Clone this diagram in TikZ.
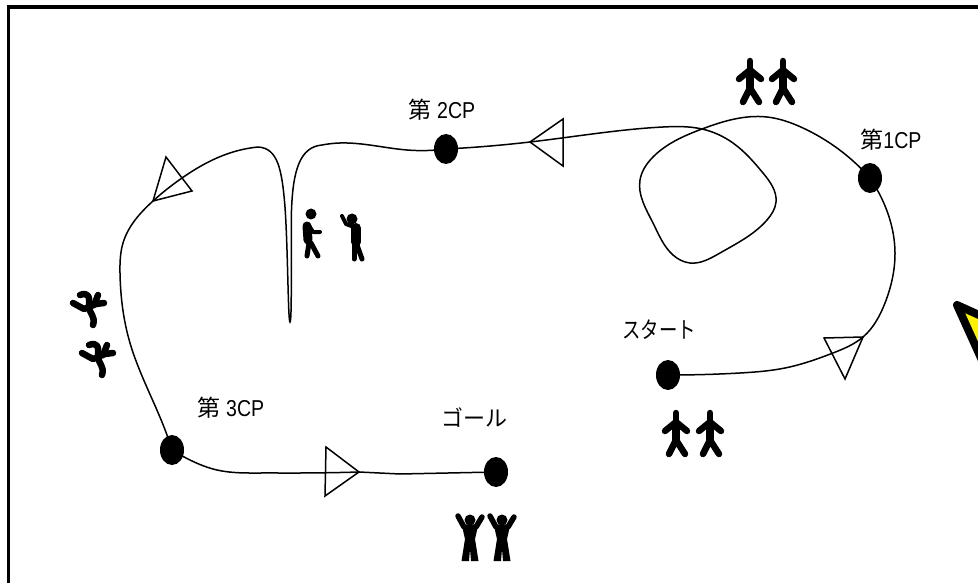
\documentclass[tikz,border=0pt]{standalone}
\usepackage{fontspec}
\setmainfont{Liberation Sans}
\newfontfamily\cjk{Noto Sans CJK JP}
\newfontfamily\cjknarrow[FakeStretch=0.8]{Noto Sans CJK JP}
\newfontfamily\latinnarrow[FakeStretch=0.85]{Liberation Sans}
\usetikzlibrary{positioning, shapes.geometric, hobby}

\begin{document}
\begin{tikzpicture}[
        x=1pt, y=-1pt,
        every node/.style={inner sep=0pt},
        checkpoint/.style={ellipse, fill=black, minimum width=24pt, minimum height=30pt},
        label/.style={font=\fontsize{23}{25}\selectfont, anchor=center},
        course/.style={draw=black, line width=1.5pt},
        flag/.style={draw=black, line width=1.5pt, line join=miter},
        limb/.style={draw=black, line width=6.5pt, line cap=round, line join=round},
        walker/.pic={
            \draw[limb] (0,3) -- (0,14);
            \draw[limb, line width=8pt] (0,14) -- (0,32);
            \draw[limb] (-11,21) -- (0,12) -- (11,21);
            \draw[limb] (-7,44) -- (0,30) -- (9,44);
        },
        cheerer/.pic={
            \fill (0,7) circle[radius=5.5pt];
            \draw[limb, line width=5.5pt] (-12,3) -- (-6,14) -- (6,14) -- (12,4);
            \fill (-8,13) -- (8,13) -- (5,26) -- (8.5,48) -- (1,48) -- (0,36) -- (-1,48) -- (-8.5,48) -- (-5,26) -- cycle;
        },
        runner/.pic={
            \draw[limb, line width=6.5pt] (-15,-7) -- (-4,-1) -- (8,-6) -- (16,-7);
            \draw[limb, line width=6.5pt] (-8,-15) .. controls (0,-18) and (2,-14) .. (1,-4) .. controls (1,4) and (8,6) .. (5,15);
            \draw[limb, line width=6.5pt] (10,-15) -- (7,-7);
        }
    ]
    \useasboundingbox (0,0) rectangle (978,583);

    % Rahmen
    \draw[line width=3.5pt] (8.5,583) -- (8.5,7) -- (978,7);

    % Warnzeichen rechts
    \draw[line width=8pt, line join=round, fill=yellow] (1100,370) -- (957,305) -- (1000,400) -- cycle;

    % Kontrollpunkte
    \node[checkpoint] (start) at (668,375) {};
    \node[checkpoint] (cp1) at (870,178) {};
    \node[checkpoint] (cp2) at (446,149) {};
    \node[checkpoint] (cp3) at (172,450) {};
    \node[checkpoint] (goal) at (496,472) {};

    % Texte
    \node[label] (startlabel) at (659,330) {\cjknarrow スタート};
    \node[label] (cp1label) at (891,140) {\cjk 第\latinnarrow 1CP};
    \node[label] (cp2label) at (442,110) {\cjk 第\latinnarrow\ 2CP};
    \node[label] (cp3label) at (231,408) {\cjk 第\latinnarrow\ 3CP};
    \node[label, font=\fontsize{22}{24}\selectfont] (goallabel) at (474,418) {\cjk ゴール};

    % Strecke
    \draw[course] (start.center) to[curve through={(740,373) (785,368) (833,353) (863,337) (885,303) (895,253) (880,195)}] (cp1.center);
    \draw[course] (cp1.center) to[curve through={(803,128) (767,117) (702,129) (653,157) (640,180) (653,223) (673,255) (690,263) (720,253) (767,220) (776,202) (763,173) (733,143) (702,129) (663,127) (600,133) (530,142)}] (cp2.center);
    \draw[course] (cp2.center) to[curve through={(407,150) (340,143)}] (322,145);
    \draw[course] (322,145) .. controls (300,147) and (293,170) .. (291.5,210) .. controls (291,260) and (292,322) .. (290,322) .. controls (288,322) and (288,250) .. (285,207) .. controls (282,170) and (278,148) .. (258,147);
    \draw[course] (258,147) to[curve through={(233,152) (182,178) (153,201) (123,243) (120,273) (130,343) (167,435)}] (cp3.center);
    \draw[course] (cp3.center) to[curve through={(190,460) (217,470) (260,473) (300,473)}] (359,472);
    \draw[course] (359,472) -- (400,474) -- (goal);

    % Richtungspfeile
    \draw[flag] (824,338) -- (863,337) -- (845,379) -- cycle;
    \draw[flag] (530,142) -- (563,119) -- (563,166) -- cycle;
    \draw[flag] (153,201) -- (166,157) -- (192,191) -- cycle;
    \draw[flag] (359,472) -- (326,447) -- (325,496) -- cycle;

    % Figuren
    \pic at (750,58) {walker};
    \pic at (783,58) {walker};
    \pic at (676,410) {walker};
    \pic at (710,410) {walker};
    \pic at (470,513) {cheerer};
    \pic at (502,513) {cheerer};
    \pic at (88,310) {runner};
    \pic at (97,360) {runner};

    % Figuren am zweiten Kontrollpunkt
    \fill (311,214) circle[radius=5.5pt];
    \draw[limb, line width=9pt] (307,226) -- (308,240);
    \draw[limb, line width=4pt] (308,224) -- (313,232) -- (320,232);
    \draw[limb, line width=5pt] (309,243) -- (307,256);
    \draw[limb, line width=5pt] (311,243) -- (318,256);
    \fill (352,219) circle[radius=5.5pt];
    \draw[limb, line width=4pt] (342,216) -- (346,224) -- (354,227);
    \draw[limb, line width=10pt] (356,228) -- (356,242);
    \draw[limb, line width=5pt] (354,245) -- (354,259);
    \draw[limb, line width=5pt] (357,245) -- (362,259);
    \end{tikzpicture}
\end{document}
